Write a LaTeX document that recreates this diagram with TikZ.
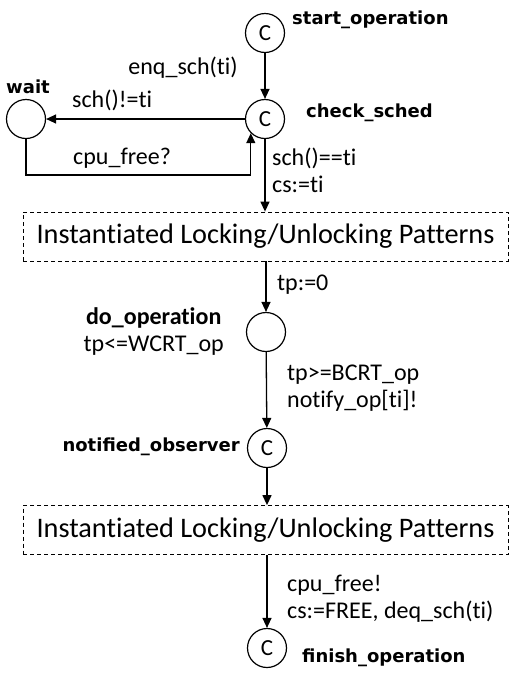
\documentclass[tikz,border=0pt]{standalone}
\usepackage{fontspec}
\setmainfont{Carlito}[Ligatures=NoCommon]
\newfontfamily\namefont{DejaVu Sans}
\usetikzlibrary{arrows.meta,positioning}

\tikzset{
  loc/.style={draw, circle, minimum size=39pt, inner sep=0pt, line width=1.2pt, font=\fontsize{23}{25}\selectfont},
  locname/.style={inner sep=0pt, font=\namefont\bfseries\fontsize{18}{20}\selectfont},
  lbl/.style={inner sep=0pt, align=left, font=\fontsize{24}{27}\selectfont},
  pattern/.style={draw, dashed, dash pattern=on 4pt off 3pt, line width=0.8pt, minimum width=485pt, minimum height=49pt, inner sep=0pt, font=\fontsize{28.3}{30}\selectfont},
  arr/.style={-{Triangle[length=10pt,width=9pt]}, line width=1.3pt}
}

\begin{document}
\begin{tikzpicture}[x=1pt, y=-1pt]
    \useasboundingbox (0,0) rectangle (510,673);

    % locations
    \node[loc] (start) at (265, 33) {C};
    \node[loc] (check) at (265, 119) {C};
    \node[loc] (wait) at (26, 119) {};
    \node[loc] (doop) at (266, 332) {};
    \node[loc] (notif) at (267, 448) {C};
    \node[loc] (finish) at (267, 648) {C};

    % location names
    \node[locname, anchor=west] (startname) at (292, 20) {start\_operation};
    \node[locname, anchor=west] (checkname) at (306, 113) {check\_sched};
    \node[locname] (waitname) at (28, 87) {wait};
    \node[locname, anchor=east] (notifname) at (240, 447) {notified\_observer};
    \node[locname, anchor=west] (finishname) at (302, 658) {finish\_operation};
    \node[lbl, anchor=east, align=center] (doopname) at (224, 332) {\textbf{do\_operation}\\tp<=WCRT\_op};

    % pattern boxes
    \node[pattern] (pat1) at (265.5, 236.5) {Instantiated Locking/Unlocking Patterns};
    \node[pattern] (pat2) at (265.5, 530) {Instantiated Locking/Unlocking Patterns};

    % edges
    \draw[arr] (start) -- (check);
    \node[lbl, anchor=east] (enq) at (238, 68) {enq\_sch(ti)};

    \draw[arr] (check) -- (wait);
    \node[lbl, anchor=west] (notme) at (72, 100) {sch()!=ti};

    \coordinate (loopcorner) at (26, 175);
    \draw[arr] (wait.south) -- (loopcorner) -| (check.south west);
    \node[lbl, anchor=west] (cpuwait) at (73, 158) {cpu\_free?};

    \draw[arr] (check) -- (check |- pat1.north);
    \node[lbl, anchor=west] (isme) at (272, 170) {sch()==ti\\cs:=ti};

    \draw[arr] (doop |- pat1.south) -- (doop);
    \node[lbl, anchor=west] (reset) at (277, 285) {tp:=0};

    \draw[arr] (doop) -- (notif);
    \node[lbl, anchor=west] (notify) at (287, 388) {tp>=BCRT\_op\\notify\_op[ti]!};

    \draw[arr] (notif) -- (notif |- pat2.north);

    \draw[arr] (finish |- pat2.south) -- (finish);
    \node[lbl, anchor=west] (release) at (287, 599) {cpu\_free!\\cs:=FREE, deq\_sch(ti)};
\end{tikzpicture}
\end{document}
